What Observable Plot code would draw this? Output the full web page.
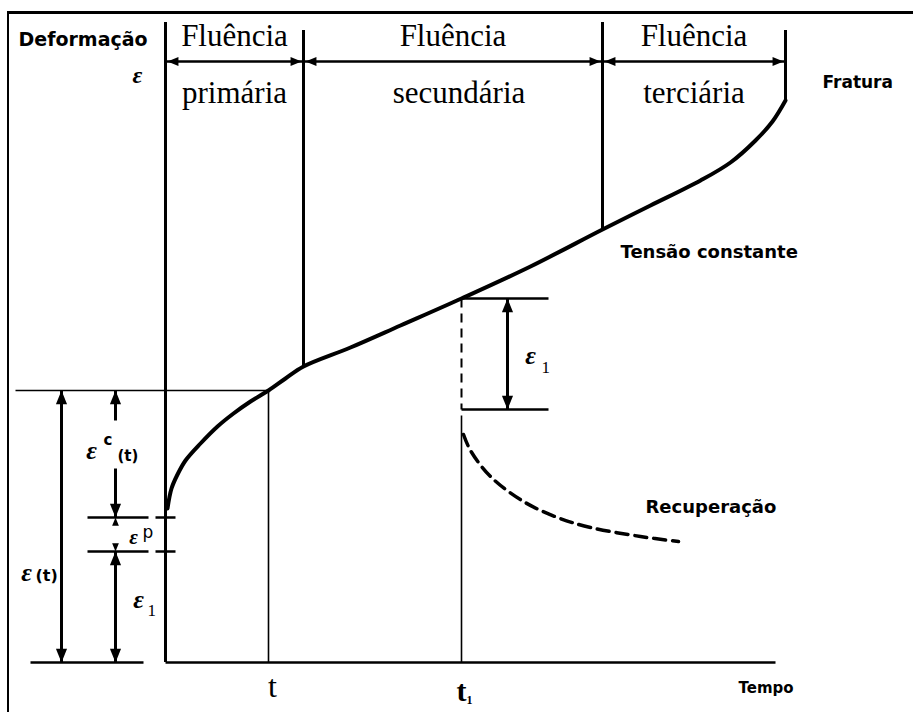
<!DOCTYPE html>
<html>
<head>
<meta charset="utf-8">
<script src="https://cdn.jsdelivr.net/npm/d3@7"></script>
<script src="https://cdn.jsdelivr.net/npm/@observablehq/plot@0.6"></script>
<style>
  html, body { margin: 0; padding: 0; background: #fff; }
  #wrap { position: relative; width: 913px; height: 712px; overflow: hidden; }
  #wrap svg { display: block; }
  #frame { position: absolute; left: 7px; top: 11px; right: -4px; bottom: -4px;
           border-top: 3px solid #000; border-left: 2px solid #000; pointer-events: none; }
</style>
</head>
<body>
<div id="wrap"><div id="chart"></div><div id="frame"></div></div>
<script>
// Creep curve under constant stress: strain ε against time (arbitrary units).
const creepTime   = [0.2, 0.6, 1.2, 2.0, 3.5, 5.2, 6.8, 8.5, 10.3, 12.0, 13.8, 18.5, 23.5, 29.6, 36.5, 43.7, 48.5, 53.5, 56.5, 59.0, 60.7, 62.0];
const creepStrain = [15.4, 17.4, 18.8, 20.2, 21.9, 23.6, 24.9, 26.1, 27.2, 28.4, 29.6, 31.5, 33.7, 36.4, 39.6, 43.3, 45.7, 48.2, 50.0, 52.2, 54.1, 56.2];

// Recovery after unloading at t1 (dashed branch).
const recoveryTime   = [29.8, 30.5, 32.5, 35.8, 39.2, 42.5, 47.5, 51.3];
const recoveryStrain = [22.8, 21.2, 18.6, 16.1, 14.5, 13.5, 12.6, 12.1];

// Stage boundaries: start, primary→secondary, secondary→tertiary, fracture.
const stageBounds = [0, 13.8, 43.7, 62.0];
const stageTitles = ["Fluência", "Fluência", "Fluência"];
const stageNames  = ["primária", "secundária", "terciária"];

// Marked instants and strain components.
const tMark = 10.3;          // t
const t1Mark = 29.6;         // t1 (unloading)
const timeLabels = ["t", "t"];
const epsElastic = 11.1;     // ε1
const epsPlastic = 3.4;      // εp

const strainAt = x => creepStrain[creepTime.indexOf(x)];
const epsT = strainAt(tMark);
const epsT1 = strainAt(t1Mark);
const eps0 = epsElastic + epsPlastic;

// ---- layout of the annotation column on the left and the bracket on the right ----
const xTotal = -10.4, xParts = -5.0, xBracket = 34.2, bracketEnd = 38.3;
const arrowRow = 60.1;

const serif = "Liberation Serif, Times New Roman, serif";
const sans = "DejaVu Sans, sans-serif";

// Filled arrowhead whose tip sits on the anchor point.
function head(dir) {
  return {
    draw(ctx, size) {
      const r = Math.sqrt(size / Math.PI);
      const h = 2.6 * r, w = 1.05 * r;
      const pts = [[0, 0], [-w, h], [w, h]];
      const rot = {up: 0, right: Math.PI / 2, down: Math.PI, left: -Math.PI / 2}[dir];
      const c = Math.cos(rot), s = Math.sin(rot);
      pts.forEach(([px, py], i) => {
        const X = px * c - py * s, Y = px * s + py * c;
        i ? ctx.lineTo(X, Y) : ctx.moveTo(X, Y);
      });
      ctx.closePath();
    }
  };
}
const heads = (dir, pts, r) => Plot.dot(pts, {x: "x", y: "y", r, symbol: head(dir), fill: "#000", stroke: "none"});

const curve = creepTime.map((x, i) => ({x, y: creepStrain[i]}));
const recovery = recoveryTime.map((x, i) => ({x, y: recoveryStrain[i]}));

const stageLabelX = stageNames.map((_, i) => (stageBounds[i] + stageBounds[i + 1]) / 2);

const thick = [
  {x1: xTotal, y1: 0, x2: xTotal, y2: epsT},
  {x1: xParts, y1: epsT, x2: xParts, y2: epsT - 3.0},
  {x1: xParts, y1: eps0 + 4.9, x2: xParts, y2: eps0},
  {x1: xParts, y1: 0, x2: xParts, y2: epsElastic},
  {x1: xBracket, y1: epsT1 - epsElastic, x2: xBracket, y2: epsT1}
];
const medium = [
  {x1: -13.5, y1: 0, x2: -2.2, y2: 0},
  {x1: -7.8, y1: eps0, x2: -1.7, y2: eps0},
  {x1: -1.0, y1: eps0, x2: 1.0, y2: eps0},
  {x1: -7.8, y1: epsElastic, x2: -1.7, y2: epsElastic},
  {x1: -1.0, y1: epsElastic, x2: 1.0, y2: epsElastic},
  {x1: t1Mark, y1: epsT1, x2: bracketEnd, y2: epsT1},
  {x1: t1Mark, y1: epsT1 - epsElastic, x2: bracketEnd, y2: epsT1 - epsElastic},
  {x1: stageBounds[0], y1: 0, x2: 61.0, y2: 0}
];
const thin = [
  {x1: -15.0, y1: epsT, x2: tMark, y2: epsT},
  {x1: tMark, y1: 0, x2: tMark, y2: epsT},
  {x1: t1Mark, y1: 0, x2: t1Mark, y2: epsT1 - epsElastic - 0.6}
];
const seg = (data, w, extra = {}) => Plot.link(data, {x1: "x1", y1: "y1", x2: "x2", y2: "y2", stroke: "#000", strokeWidth: w, strokeLinecap: "butt", ...extra});

const txt = (data, o) => Plot.text(data, {x: "x", y: "y", text: "s", fill: "#000", lineAnchor: "bottom", ...o});
const epsGlyph = {fontFamily: serif, fontStyle: "italic", fontWeight: "bold"};

const chart = Plot.plot({
  width: 913,
  height: 712,
  margin: 0,
  x: {domain: [-16.5, 74.8], range: [0, 913], axis: null},
  y: {domain: [-5, 66.2], range: [712, 0], axis: null},
  style: {background: "#fff"},
  marks: [
    // stage separators (the first one is the strain axis)
    Plot.ruleX(stageBounds, {
      x: d => d,
      y1: (d, i) => (i % 2 ? 63.2 : 64.0),
      y2: (d, i) => (i === 0 ? 0 : strainAt(d)),
      stroke: "#000", strokeWidth: 3
    }),
    Plot.ruleY([arrowRow], {x1: stageBounds[0], x2: stageBounds[3], stroke: "#000", strokeWidth: 2.5}),
    heads("left", stageBounds.slice(0, 3).map(x => ({x: x + 0.2, y: arrowRow})), 4.2),
    heads("right", stageBounds.slice(1).map(x => ({x: x - 0.2, y: arrowRow})), 4.2),

    seg(thick, 3),
    seg(medium, 2.5),
    seg(thin, 1.6),
    // elastic recovery drop at t1
    seg([{x1: t1Mark, y1: epsT1, x2: t1Mark, y2: epsT1 - epsElastic}], 2, {strokeDasharray: "9,6"}),

    // arrowheads of the strain components
    heads("up", [{x: xTotal, y: epsT}, {x: xParts, y: epsT}, {x: xParts, y: epsElastic}, {x: xBracket, y: epsT1}], 5.3),
    heads("down", [{x: xTotal, y: 0}, {x: xParts, y: 0}, {x: xParts, y: eps0}, {x: xBracket, y: epsT1 - epsElastic}], 5.3),
    heads("up", [{x: xParts, y: eps0}], 3.2),
    heads("down", [{x: xParts, y: epsElastic}], 3.2),

    // creep curve and recovery
    Plot.line(curve, {x: "x", y: "y", stroke: "#000", strokeWidth: 4, curve: "catmull-rom"}),
    Plot.line(recovery, {x: "x", y: "y", stroke: "#000", strokeWidth: 3.5, strokeDasharray: "12,7", curve: "catmull-rom"}),

    // stage labels
    txt(stageTitles.map((s, i) => ({s, x: stageLabelX[i], y: 61.7})), {fontFamily: serif, fontSize: 31}),
    txt(stageNames.map((s, i) => ({s, x: stageLabelX[i] + (i === 1 ? 0.6 : 0), y: 56.0})), {fontFamily: serif, fontSize: 31}),

    // axis titles and curve annotations
    txt([{s: "Deformação", x: -14.7, y: 61.7}], {fontFamily: sans, fontWeight: "bold", fontSize: 19, textAnchor: "start"}),
    txt([{s: "ε", x: -2.8, y: 58.0}], {...epsGlyph, fontSize: 24}),
    txt([{s: "Fratura", x: 65.7, y: 57.5}], {fontFamily: sans, fontWeight: "bold", fontSize: 17, textAnchor: "start"}),
    txt([{s: "Tensão constante", x: 45.5, y: 40.5}], {fontFamily: sans, fontWeight: "bold", fontSize: 18, textAnchor: "start"}),
    txt([{s: "Recuperação", x: 48.0, y: 15.0}], {fontFamily: sans, fontWeight: "bold", fontSize: 18, textAnchor: "start"}),
    txt([{s: "Tempo", x: 57.3, y: -3.0}], {fontFamily: sans, fontWeight: "bold", fontSize: 15, textAnchor: "start"}),

    // time ticks t and t1
    txt([{s: timeLabels[0], x: tMark + 0.4, y: -3.4}], {fontFamily: serif, fontSize: 32}),
    txt([{s: timeLabels[1], x: t1Mark, y: -3.8}], {fontFamily: serif, fontWeight: "bold", fontSize: 30}),
    txt([{s: "1", x: t1Mark + 0.5, y: -4.1}], {fontFamily: serif, fontWeight: "bold", fontSize: 12, textAnchor: "start"}),

    // strain component labels
    txt([{s: "ε", x: -13.9, y: 8.2}, {s: "ε", x: -7.4, y: 20.4}, {s: "ε", x: -2.7, y: 5.5}, {s: "ε", x: xBracket + 2.3, y: 29.9}], {...epsGlyph, fontSize: 26}),
    txt([{s: "ε", x: -3.2, y: 11.9}], {...epsGlyph, fontSize: 21}),
    txt([{s: "(t)", x: -13.0, y: 8.2}], {fontFamily: sans, fontWeight: "bold", fontSize: 16, textAnchor: "start"}),
    txt([{s: "(t)", x: -4.8, y: 20.2}], {fontFamily: sans, fontWeight: "bold", fontSize: 15, textAnchor: "start"}),
    txt([{s: "c", x: -6.2, y: 21.8}], {fontFamily: sans, fontWeight: "bold", fontSize: 15, textAnchor: "start"}),
    txt([{s: "p", x: -2.3, y: 12.5}], {fontFamily: sans, fontSize: 17, textAnchor: "start"}),
    txt([{s: "1", x: -1.8, y: 4.7}, {s: "1", x: xBracket + 3.4, y: 29.0}], {fontFamily: serif, fontSize: 17, textAnchor: "start"})
  ]
});

document.getElementById("chart").append(chart);
</script>
</body>
</html>
